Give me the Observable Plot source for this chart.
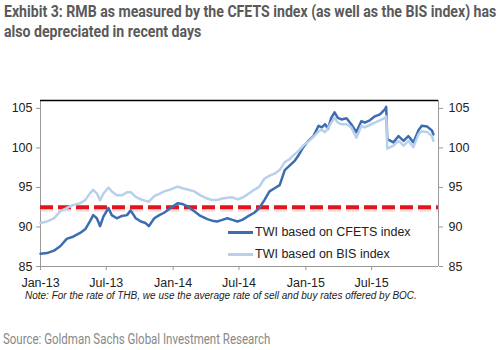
<!DOCTYPE html>
<html><head><meta charset="utf-8">
<script src="https://cdn.jsdelivr.net/npm/d3@7"></script>
<script src="https://cdn.jsdelivr.net/npm/@observablehq/plot@0.6"></script>
<style>
body{margin:0;background:#fff;}
#wrap{position:relative;width:500px;height:350px;overflow:hidden;font-family:"Liberation Sans",Arial,sans-serif;background:#fff;}
#title{position:absolute;left:4px;top:2px;font-family:"Roboto",sans-serif;font-weight:bold;font-size:16.5px;line-height:20px;color:#5a5a5a;white-space:nowrap;transform:scaleX(0.855);transform-origin:0 0;}
.ylab{position:absolute;top:76px;font-size:11.5px;color:#222;white-space:nowrap;}
#chart{position:absolute;left:0;top:60px;}
.leg{position:absolute;left:228px;font-size:12.5px;color:#222;white-space:nowrap;display:flex;align-items:center;}
.sw{display:inline-block;width:25px;height:3px;margin-right:2px;}
#note{position:absolute;left:25px;top:290px;font-size:10px;font-style:italic;color:#222;white-space:nowrap;}
#source{position:absolute;left:3px;top:331px;font-family:"Roboto",sans-serif;font-size:14px;color:#888;white-space:nowrap;transform:scaleX(0.82);transform-origin:0 0;}
</style></head><body>
<div id="wrap">
<div id="title">Exhibit 3: RMB as measured by the CFETS index (as well as the BIS index) has<br>also depreciated in recent days</div>
<div class="ylab" style="left:15px;">Index (end-2014=100)</div>
<div class="ylab" style="left:344px;">Index (end-2014=100)</div>
<div id="chart"></div>
<div class="leg" style="top:225px;"><span class="sw" style="background:#3d6db0"></span>TWI based on CFETS index</div>
<div class="leg" style="top:247px;"><span class="sw" style="background:#b9d0ec"></span>TWI based on BIS index</div>
<div id="note">Note: For the rate of THB, we use the average rate of sell and buy rates offered by BOC.</div>
<div id="source">Source: Goldman Sachs Global Investment Research</div>
</div>
<script>
const dates = ["2013-01-01","2013-01-19","2013-02-07","2013-02-25","2013-03-14","2013-04-02","2013-04-20","2013-05-04","2013-05-17","2013-05-26",
"2013-06-05","2013-06-14","2013-06-23","2013-07-07","2013-07-16","2013-07-30","2013-08-13","2013-08-27","2013-09-06","2013-09-20",
"2013-10-04","2013-10-17","2013-10-26","2013-11-10","2013-11-24","2013-12-07","2013-12-25","2014-01-13","2014-01-27","2014-02-10",
"2014-02-28","2014-03-17","2014-04-05","2014-04-18","2014-05-02","2014-05-16","2014-05-30","2014-06-13","2014-06-27","2014-07-10",
"2014-07-24","2014-08-12","2014-08-26","2014-09-09","2014-09-23","2014-10-07","2014-10-21","2014-11-04","2014-11-18","2014-12-02",
"2014-12-11","2014-12-25","2015-01-08","2015-01-22","2015-02-05","2015-02-14","2015-02-23","2015-03-03","2015-03-12","2015-03-21",
"2015-03-30","2015-04-09","2015-04-23","2015-05-06","2015-05-20","2015-06-03","2015-06-12","2015-06-26","2015-07-10","2015-07-24",
"2015-08-07","2015-08-10","2015-08-11","2015-08-13","2015-08-30","2015-09-13","2015-09-27","2015-10-10","2015-10-24","2015-11-07",
"2015-11-16","2015-12-01","2015-12-14","2015-12-18"];
const cfets = [86.6,86.7,87.0,87.6,88.5,88.8,89.25,89.7,90.7,91.5,
91.1,90.1,91.3,92.4,91.5,91.1,91.4,91.5,92.1,91.1,
90.7,90.5,90.1,91.1,91.5,91.8,92.4,93.0,92.9,92.6,
92.0,91.4,91.0,90.8,90.7,90.9,91.1,90.9,90.7,90.9,
91.3,91.8,92.4,93.4,94.5,94.9,95.3,97.2,97.8,98.4,
99.0,100.1,100.9,101.5,102.8,102.6,103.0,102.4,103.8,104.5,
103.8,103.6,103.75,103.0,102.0,103.4,103.2,103.5,104.0,104.25,
104.9,105.2,104.0,101.1,100.7,101.5,100.9,101.5,100.7,102.25,
102.8,102.7,102.2,101.7];
const bis = [90.5,90.7,91.1,92.0,92.4,92.8,93.0,93.4,94.25,94.7,
94.25,93.4,94.2,95.0,94.5,94.0,94.0,94.4,94.4,93.8,
93.5,93.3,93.2,93.9,94.2,94.5,94.75,95.1,94.9,94.75,
94.5,94.0,93.6,93.4,93.4,93.6,93.7,93.75,93.5,93.7,
94.1,94.7,95.1,96.1,96.5,96.75,97.2,98.2,98.6,99.25,
99.6,100.3,100.8,101.4,102.1,102.3,102.0,102.5,103.2,103.8,
103.2,103.0,103.0,102.6,101.3,102.8,102.6,102.9,103.2,103.5,
103.8,104.0,103.4,99.9,100.3,100.9,100.3,100.9,100.1,101.75,
102.1,102.0,101.5,100.9];
const threshold = [92.5];
const yTicks = [85,90,95,100,105];
const yDomain = [85,106];
const xTickDates = ["2013-01-01","2013-07-01","2014-01-01","2014-07-01","2015-01-01","2015-07-01"];
const xDomainDates = ["2013-01-01","2016-01-01"];

const xDomain = xDomainDates.map(d => new Date(d));
const xTicks = xTickDates.map(d => new Date(d));
const cfetsData = dates.map((d,i) => ({date: new Date(d), v: cfets[i]}));
const bisData = dates.map((d,i) => ({date: new Date(d), v: bis[i]}));
const fmt = d3.utcFormat("%b-%y");

const plot = Plot.plot({
  width: 500, height: 240,
  marginTop: 40, marginBottom: 34, marginLeft: 40, marginRight: 62,
  x: {type: "utc", domain: xDomain},
  y: {domain: yDomain},
  style: {fontFamily: "Liberation Sans, Arial, sans-serif", fontSize: "12.5px", color: "#222", background: "white", overflow: "visible"},
  marks: [
    Plot.ruleX([xDomain[0], xDomain[1]], {stroke: "#999"}),
    Plot.ruleY([yDomain[0]], {stroke: "#999"}),
    Plot.ruleY([yDomain[1]], {stroke: "#000", strokeWidth: 1.3}),
    Plot.axisX({ticks: xTicks, tickFormat: fmt, tickSize: 4, tickPadding: 8, stroke: "#999", label: null}),
    Plot.axisY({anchor: "left", ticks: yTicks, tickSize: 4, tickPadding: 4, stroke: "#999", label: null}),
    Plot.axisY({anchor: "right", ticks: yTicks, tickSize: 4, tickPadding: 6, stroke: "#999", label: null}),
    Plot.ruleY(threshold, {stroke: "#f4a0a0", strokeWidth: 6, strokeOpacity: 0.35, strokeDasharray: "13,5", dy: 1.5}),
    Plot.ruleY(threshold, {stroke: "#e3141b", strokeWidth: 4, strokeDasharray: "13,5"}),
    Plot.line(cfetsData, {x: "date", y: "v", stroke: "#3d6db0", strokeWidth: 2.5}),
    Plot.line(bisData, {x: "date", y: "v", stroke: "#b9d0ec", strokeWidth: 2.5})
  ]
});
document.getElementById("chart").appendChild(plot);
</script>
</body></html>
